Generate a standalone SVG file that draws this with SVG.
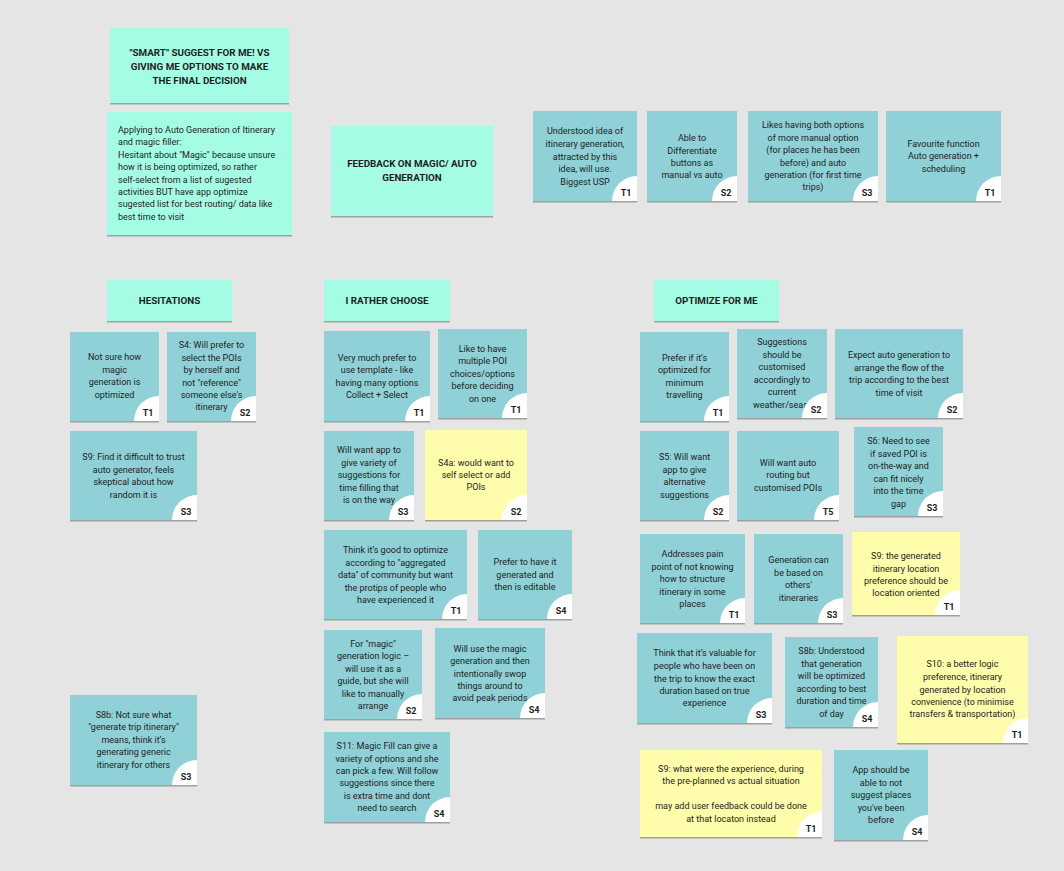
<svg xmlns="http://www.w3.org/2000/svg" width="1064" height="871" viewBox="0 0 1064 871">
<defs>
<filter id="sh" x="-5%" y="-5%" width="110%" height="115%"><feDropShadow dx="0" dy="1.5" stdDeviation="0.7" flood-color="#000" flood-opacity="0.3"/></filter>
<style>
.b{fill:#8fd1d6;filter:url(#sh)}
.m{fill:#a4fce5;filter:url(#sh)}
.y{fill:#fffcac;filter:url(#sh)}
.c{fill:#ffffff}
.t{font-family:Roboto,"Liberation Sans",sans-serif;font-size:9px;fill:#1e1e1e;text-anchor:middle}
.l{font-family:Roboto,"Liberation Sans",sans-serif;font-size:9px;fill:#1e1e1e}
.h{font-family:Roboto,"Liberation Sans",sans-serif;font-size:9.8px;font-weight:bold;fill:#1e1e1e;text-anchor:middle}
.g{font-family:Roboto,"Liberation Sans",sans-serif;font-size:9px;font-weight:bold;fill:#1e1e1e;text-anchor:middle}
</style>
</defs>
<rect width="1064" height="871" fill="#e5e5e5"/>

<g id="title">
<rect class="m" x="110" y="28" width="179" height="75"/>
<text class="h"><tspan x="199.5" y="56.2">"SMART" SUGGEST FOR ME! VS</tspan><tspan x="199.5" y="69.5">GIVING ME OPTIONS TO MAKE</tspan><tspan x="199.5" y="83.5">THE FINAL DECISION</tspan></text>
</g>

<g id="applying">
<rect class="m" x="107" y="112" width="185" height="123"/>
<text class="l"><tspan x="118" y="133">Applying to Auto Generation of Itinerary</tspan><tspan x="118" y="145.4">and magic filler:</tspan><tspan x="118" y="157.8">Hesitant about "Magic" because unsure</tspan><tspan x="118" y="170.2">how it is being optimized, so rather</tspan><tspan x="118" y="182.6">self-select from a list of sugested</tspan><tspan x="118" y="195">activities BUT have app optimize</tspan><tspan x="118" y="207.4">sugested list for best routing/ data like</tspan><tspan x="118" y="219.8">best time to visit</tspan></text>
</g>

<g id="feedback">
<rect class="m" x="331" y="126" width="162" height="90"/>
<text class="h"><tspan x="412" y="166.8">FEEDBACK ON MAGIC/ AUTO</tspan><tspan x="412" y="180.8">GENERATION</tspan></text>
</g>

<g id="f1">
<rect class="b" x="533" y="111" width="104" height="90"/>
<text class="t"><tspan x="585" y="134.2">Understood idea of</tspan><tspan x="585" y="147">itinerary generation,</tspan><tspan x="585" y="159.5">attracted by this</tspan><tspan x="585" y="172">idea, will use.</tspan><tspan x="585" y="184.5">Biggest USP</tspan></text>
<path class="c" d="M612,201A25,25 0 0 1 637,176V201Z"/><text class="g" x="626" y="196">T1</text>
</g>

<g id="f2">
<rect class="b" x="647" y="111" width="90" height="90"/>
<text class="t"><tspan x="692" y="141">Able to</tspan><tspan x="692" y="153.5">Differentiate</tspan><tspan x="692" y="165.5">buttons as</tspan><tspan x="692" y="177.5">manual vs auto</tspan></text>
<path class="c" d="M712,201A25,25 0 0 1 737,176V201Z"/><text class="g" x="726" y="196">S2</text>
</g>

<g id="f3">
<rect class="b" x="748" y="111" width="130" height="90"/>
<text class="t"><tspan x="813" y="128.2">Likes having both options</tspan><tspan x="813" y="141">of more manual option</tspan><tspan x="813" y="153.3">(for places he has been</tspan><tspan x="813" y="165.5">before) and auto</tspan><tspan x="813" y="178.2">generation (for first time</tspan><tspan x="813" y="190">trips)</tspan></text>
<path class="c" d="M853,201A25,25 0 0 1 878,176V201Z"/><text class="g" x="867" y="196">S3</text>
</g>

<g id="f4">
<rect class="b" x="886" y="111" width="115" height="90"/>
<text class="t"><tspan x="943.5" y="146.5">Favourite function</tspan><tspan x="943.5" y="159.2">Auto generation +</tspan><tspan x="943.5" y="172.2">scheduling</tspan></text>
<path class="c" d="M976,201A25,25 0 0 1 1001,176V201Z"/><text class="g" x="990" y="196">T1</text>
</g>

<g id="hesitations">
<rect class="m" x="107" y="280" width="125" height="41"/>
<text class="h" x="169.5" y="303.5">HESITATIONS</text>
</g>

<g id="h1">
<rect class="b" x="70" y="332" width="89" height="89"/>
<text class="t"><tspan x="114.5" y="360">Not sure how</tspan><tspan x="114.5" y="373">magic</tspan><tspan x="114.5" y="385.3">generation is</tspan><tspan x="114.5" y="397.5">optimized</tspan></text>
<path class="c" d="M134,421A25,25 0 0 1 159,396V421Z"/><text class="g" x="148" y="416">T1</text>
</g>

<g id="h2">
<rect class="b" x="167" y="332" width="89" height="89"/>
<text class="t"><tspan x="211.5" y="348.2">S4: Will prefer to</tspan><tspan x="211.5" y="360.5">select the POIs</tspan><tspan x="211.5" y="373">by herself and</tspan><tspan x="211.5" y="385.5">not "reference"</tspan><tspan x="211.5" y="397.5">someone else's</tspan><tspan x="211.5" y="410">itinerary</tspan></text>
<path class="c" d="M231,421A25,25 0 0 1 256,396V421Z"/><text class="g" x="245" y="416">S2</text>
</g>

<g id="h3">
<rect class="b" x="70" y="431" width="127" height="89"/>
<text class="t"><tspan x="133.5" y="460">S9: Find it difficult to trust</tspan><tspan x="133.5" y="472.5">auto generator, feels</tspan><tspan x="133.5" y="485">skeptical about how</tspan><tspan x="133.5" y="497.5">random it is</tspan></text>
<path class="c" d="M172,520A25,25 0 0 1 197,495V520Z"/><text class="g" x="186" y="515">S3</text>
</g>

<g id="h4">
<rect class="b" x="70" y="695" width="127" height="90"/>
<text class="t"><tspan x="133.5" y="718.2">S8b: Not sure what</tspan><tspan x="133.5" y="730">"generate trip itinerary"</tspan><tspan x="133.5" y="742.5">means, think it’s</tspan><tspan x="133.5" y="755.2">generating generic</tspan><tspan x="133.5" y="768.2">itinerary for others</tspan></text>
<path class="c" d="M172,785A25,25 0 0 1 197,760V785Z"/><text class="g" x="186" y="780">S3</text>
</g>

<g id="choose">
<rect class="m" x="324" y="280" width="126" height="41"/>
<text class="h" x="387" y="303.5">I RATHER CHOOSE</text>
</g>

<g id="c1">
<rect class="b" x="324" y="331" width="106" height="90"/>
<text class="t"><tspan x="377" y="360.5">Very much prefer to</tspan><tspan x="377" y="373">use template - like</tspan><tspan x="377" y="385.5">having many options</tspan><tspan x="377" y="397.5">Collect + Select</tspan></text>
<path class="c" d="M405,421A25,25 0 0 1 430,396V421Z"/><text class="g" x="419" y="416">T1</text>
</g>

<g id="c2">
<rect class="b" x="438" y="329" width="89" height="89"/>
<text class="t"><tspan x="482.5" y="351.5">Like to have</tspan><tspan x="482.5" y="364">multiple POI</tspan><tspan x="482.5" y="376.5">choices/options</tspan><tspan x="482.5" y="389">before deciding</tspan><tspan x="482.5" y="401.5">on one</tspan></text>
<path class="c" d="M502,418A25,25 0 0 1 527,393V418Z"/><text class="g" x="516" y="413">T1</text>
</g>

<g id="c3">
<rect class="b" x="324" y="431" width="90" height="89"/>
<text class="t"><tspan x="369" y="453.2">Will want app to</tspan><tspan x="369" y="465.5">give variety of</tspan><tspan x="369" y="478.2">suggestions for</tspan><tspan x="369" y="490.5">time filling that</tspan><tspan x="369" y="503.2">is on the way</tspan></text>
<path class="c" d="M389,520A25,25 0 0 1 414,495V520Z"/><text class="g" x="403" y="515">S3</text>
</g>

<g id="c4">
<rect class="y" x="425" y="430" width="102" height="90"/>
<text class="t"><tspan x="476" y="465.5">S4a: would want to</tspan><tspan x="476" y="478.2">self select or add</tspan><tspan x="476" y="490">POIs</tspan></text>
<path class="c" d="M502,520A25,25 0 0 1 527,495V520Z"/><text class="g" x="516" y="515">S2</text>
</g>

<g id="c5">
<rect class="b" x="324" y="530" width="143" height="89"/>
<text class="t"><tspan x="395.5" y="553.2">Think it’s good to optimize</tspan><tspan x="395.5" y="565.5">according to "aggregated</tspan><tspan x="395.5" y="578.2">data" of community but want</tspan><tspan x="395.5" y="590.5">the protips of people who</tspan><tspan x="395.5" y="602.5">have experienced it</tspan></text>
<path class="c" d="M442,619A25,25 0 0 1 467,594V619Z"/><text class="g" x="456" y="614">T1</text>
</g>

<g id="c6">
<rect class="b" x="478" y="530" width="94" height="89"/>
<text class="t"><tspan x="525" y="565">Prefer to have it</tspan><tspan x="525" y="577.5">generated and</tspan><tspan x="525" y="590">then is editable</tspan></text>
<path class="c" d="M547,619A25,25 0 0 1 572,594V619Z"/><text class="g" x="561" y="614">S4</text>
</g>

<g id="c7">
<rect class="b" x="324" y="630" width="98" height="89"/>
<text class="t"><tspan x="373" y="646.5">For "magic"</tspan><tspan x="373" y="659">generation logic –</tspan><tspan x="373" y="671.5">will use it as a</tspan><tspan x="373" y="684">guide, but she will</tspan><tspan x="373" y="696.5">like to manually</tspan><tspan x="373" y="709">arrange</tspan></text>
<path class="c" d="M397,719A25,25 0 0 1 422,694V719Z"/><text class="g" x="411" y="714">S2</text>
</g>

<g id="c8">
<rect class="b" x="435" y="628" width="110" height="90"/>
<text class="t"><tspan x="490" y="651.5">Will use the magic</tspan><tspan x="490" y="664">generation and then</tspan><tspan x="490" y="676.5">intentionally swop</tspan><tspan x="490" y="689">things around to</tspan><tspan x="490" y="701">avoid peak periods</tspan></text>
<path class="c" d="M520,718A25,25 0 0 1 545,693V718Z"/><text class="g" x="534" y="713">S4</text>
</g>

<g id="c9">
<rect class="b" x="324" y="732" width="126" height="90"/>
<text class="t"><tspan x="387" y="749">S11: Magic Fill can give a</tspan><tspan x="387" y="761.5">variety of options and she</tspan><tspan x="387" y="774">can pick a few. Will follow</tspan><tspan x="387" y="786">suggestions since there</tspan><tspan x="387" y="798.5">is extra time and dont</tspan><tspan x="387" y="811">need to search</tspan></text>
<path class="c" d="M425,822A25,25 0 0 1 450,797V822Z"/><text class="g" x="439" y="817">S4</text>
</g>

<g id="optimize">
<rect class="m" x="654" y="280" width="125" height="41"/>
<text class="h" x="716.5" y="303.5">OPTIMIZE FOR ME</text>
</g>

<g id="o1">
<rect class="b" x="640" y="332" width="89" height="89"/>
<text class="t"><tspan x="684.5" y="360.5">Prefer if it’s</tspan><tspan x="684.5" y="373">optimized for</tspan><tspan x="684.5" y="385.5">minimum</tspan><tspan x="684.5" y="397.5">travelling</tspan></text>
<path class="c" d="M704,421A25,25 0 0 1 729,396V421Z"/><text class="g" x="718" y="416">T1</text>
</g>

<g id="o2">
<rect class="b" x="737" y="329" width="90" height="89"/>
<text class="t"><tspan x="782" y="345">Suggestions</tspan><tspan x="782" y="357.5">should be</tspan><tspan x="782" y="370">customised</tspan><tspan x="782" y="382.5">accordingly to</tspan><tspan x="782" y="395">current</tspan><tspan x="753" y="407.5" text-anchor="start">weather/seas</tspan></text>
<path class="c" d="M802,418A25,25 0 0 1 827,393V418Z"/><text class="g" x="816" y="413">S2</text>
</g>

<g id="o3">
<rect class="b" x="835" y="329" width="128" height="89"/>
<text class="t"><tspan x="899" y="358.2">Expect auto generation to</tspan><tspan x="899" y="370.5">arrange the flow of the</tspan><tspan x="899" y="383.2">trip according to the best</tspan><tspan x="899" y="395.5">time of visit</tspan></text>
<path class="c" d="M938,418A25,25 0 0 1 963,393V418Z"/><text class="g" x="952" y="413">S2</text>
</g>

<g id="o4">
<rect class="b" x="640" y="431" width="89" height="89"/>
<text class="t"><tspan x="684.5" y="460">S5: Will want</tspan><tspan x="684.5" y="472.5">app to give</tspan><tspan x="684.5" y="485">alternative</tspan><tspan x="684.5" y="497.5">suggestions</tspan></text>
<path class="c" d="M704,520A25,25 0 0 1 729,495V520Z"/><text class="g" x="718" y="515">S2</text>
</g>

<g id="o5">
<rect class="b" x="737" y="431" width="102" height="89"/>
<text class="t"><tspan x="788" y="466">Will want auto</tspan><tspan x="788" y="478.2">routing but</tspan><tspan x="788" y="490.5">customised POIs</tspan></text>
<path class="c" d="M814,520A25,25 0 0 1 839,495V520Z"/><text class="g" x="828" y="515">T5</text>
</g>

<g id="o6">
<rect class="b" x="854" y="427" width="89" height="89"/>
<text class="t"><tspan x="898.5" y="444">S6: Need to see</tspan><tspan x="898.5" y="456.5">if saved POI is</tspan><tspan x="898.5" y="469">on-the-way and</tspan><tspan x="898.5" y="481.5">can fit nicely</tspan><tspan x="898.5" y="494">into the time</tspan><tspan x="898.5" y="506.5">gap</tspan></text>
<path class="c" d="M918,516A25,25 0 0 1 943,491V516Z"/><text class="g" x="932" y="511">S3</text>
</g>

<g id="o7">
<rect class="b" x="640" y="534" width="105" height="89"/>
<text class="t"><tspan x="692.5" y="557.2">Addresses pain</tspan><tspan x="692.5" y="570">point of not knowing</tspan><tspan x="692.5" y="582.2">how to structure</tspan><tspan x="692.5" y="594.5">itinerary in some</tspan><tspan x="692.5" y="607.2">places</tspan></text>
<path class="c" d="M720,623A25,25 0 0 1 745,598V623Z"/><text class="g" x="734" y="618">T1</text>
</g>

<g id="o8">
<rect class="b" x="754" y="534" width="89" height="89"/>
<text class="t"><tspan x="798.5" y="563.2">Generation can</tspan><tspan x="798.5" y="575.5">be based on</tspan><tspan x="798.5" y="588.2">others'</tspan><tspan x="798.5" y="600.5">itineraries</tspan></text>
<path class="c" d="M818,623A25,25 0 0 1 843,598V623Z"/><text class="g" x="832" y="618">S3</text>
</g>

<g id="o9">
<rect class="y" x="852" y="532" width="108" height="83"/>
<text class="t"><tspan x="906" y="559">S9: the generated</tspan><tspan x="906" y="571.5">itinerary location</tspan><tspan x="906" y="584">preference should be</tspan><tspan x="906" y="596">location oriented</tspan></text>
<path class="c" d="M935,615A25,25 0 0 1 960,590V615Z"/><text class="g" x="949" y="610">T1</text>
</g>

<g id="o10">
<rect class="b" x="637" y="633" width="135" height="90"/>
<text class="t"><tspan x="704.5" y="656">Think that it’s valuable for</tspan><tspan x="704.5" y="668.5">people who have been on</tspan><tspan x="704.5" y="681.5">the trip to know the exact</tspan><tspan x="704.5" y="694">duration based on true</tspan><tspan x="704.5" y="706">experience</tspan></text>
<path class="c" d="M747,723A25,25 0 0 1 772,698V723Z"/><text class="g" x="761" y="718">S3</text>
</g>

<g id="o11">
<rect class="b" x="785" y="637" width="93" height="90"/>
<text class="t"><tspan x="831.5" y="654">S8b: Understood</tspan><tspan x="831.5" y="666.5">that generation</tspan><tspan x="831.5" y="679">will be optimized</tspan><tspan x="831.5" y="691.5">according to best</tspan><tspan x="831.5" y="704">duration and time</tspan><tspan x="831.5" y="716.5">of day</tspan></text>
<path class="c" d="M853,727A25,25 0 0 1 878,702V727Z"/><text class="g" x="867" y="722">S4</text>
</g>

<g id="o12">
<rect class="y" x="897" y="636" width="131" height="107"/>
<text class="t"><tspan x="962.5" y="667">S10: a better logic</tspan><tspan x="962.5" y="680">preference, itinerary</tspan><tspan x="962.5" y="692.5">generated by location</tspan><tspan x="962.5" y="705">convenience (to minimise</tspan><tspan x="962.5" y="717.2">transfers &amp; transportation)</tspan></text>
<path class="c" d="M1003,743A25,25 0 0 1 1028,718V743Z"/><text class="g" x="1017" y="738">T1</text>
</g>

<g id="o13">
<rect class="y" x="640" y="750" width="182" height="87"/>
<text class="t"><tspan x="731" y="771.5">S9: what were the experience, during</tspan><tspan x="731" y="784.2">the pre-planned vs actual situation</tspan><tspan x="731" y="809">may add user feedback could be done</tspan><tspan x="731" y="821.5">at that locaton instead</tspan></text>
<path class="c" d="M797,837A25,25 0 0 1 822,812V837Z"/><text class="g" x="811" y="832">T1</text>
</g>

<g id="o14">
<rect class="b" x="834" y="750" width="94" height="90"/>
<text class="t"><tspan x="881" y="773.2">App should be</tspan><tspan x="881" y="786">able to not</tspan><tspan x="881" y="798.2">suggest places</tspan><tspan x="881" y="811">you've been</tspan><tspan x="881" y="823.2">before</tspan></text>
<path class="c" d="M903,840A25,25 0 0 1 928,815V840Z"/><text class="g" x="917" y="835">S4</text>
</g>

<g id="connectors"/>
</svg>
